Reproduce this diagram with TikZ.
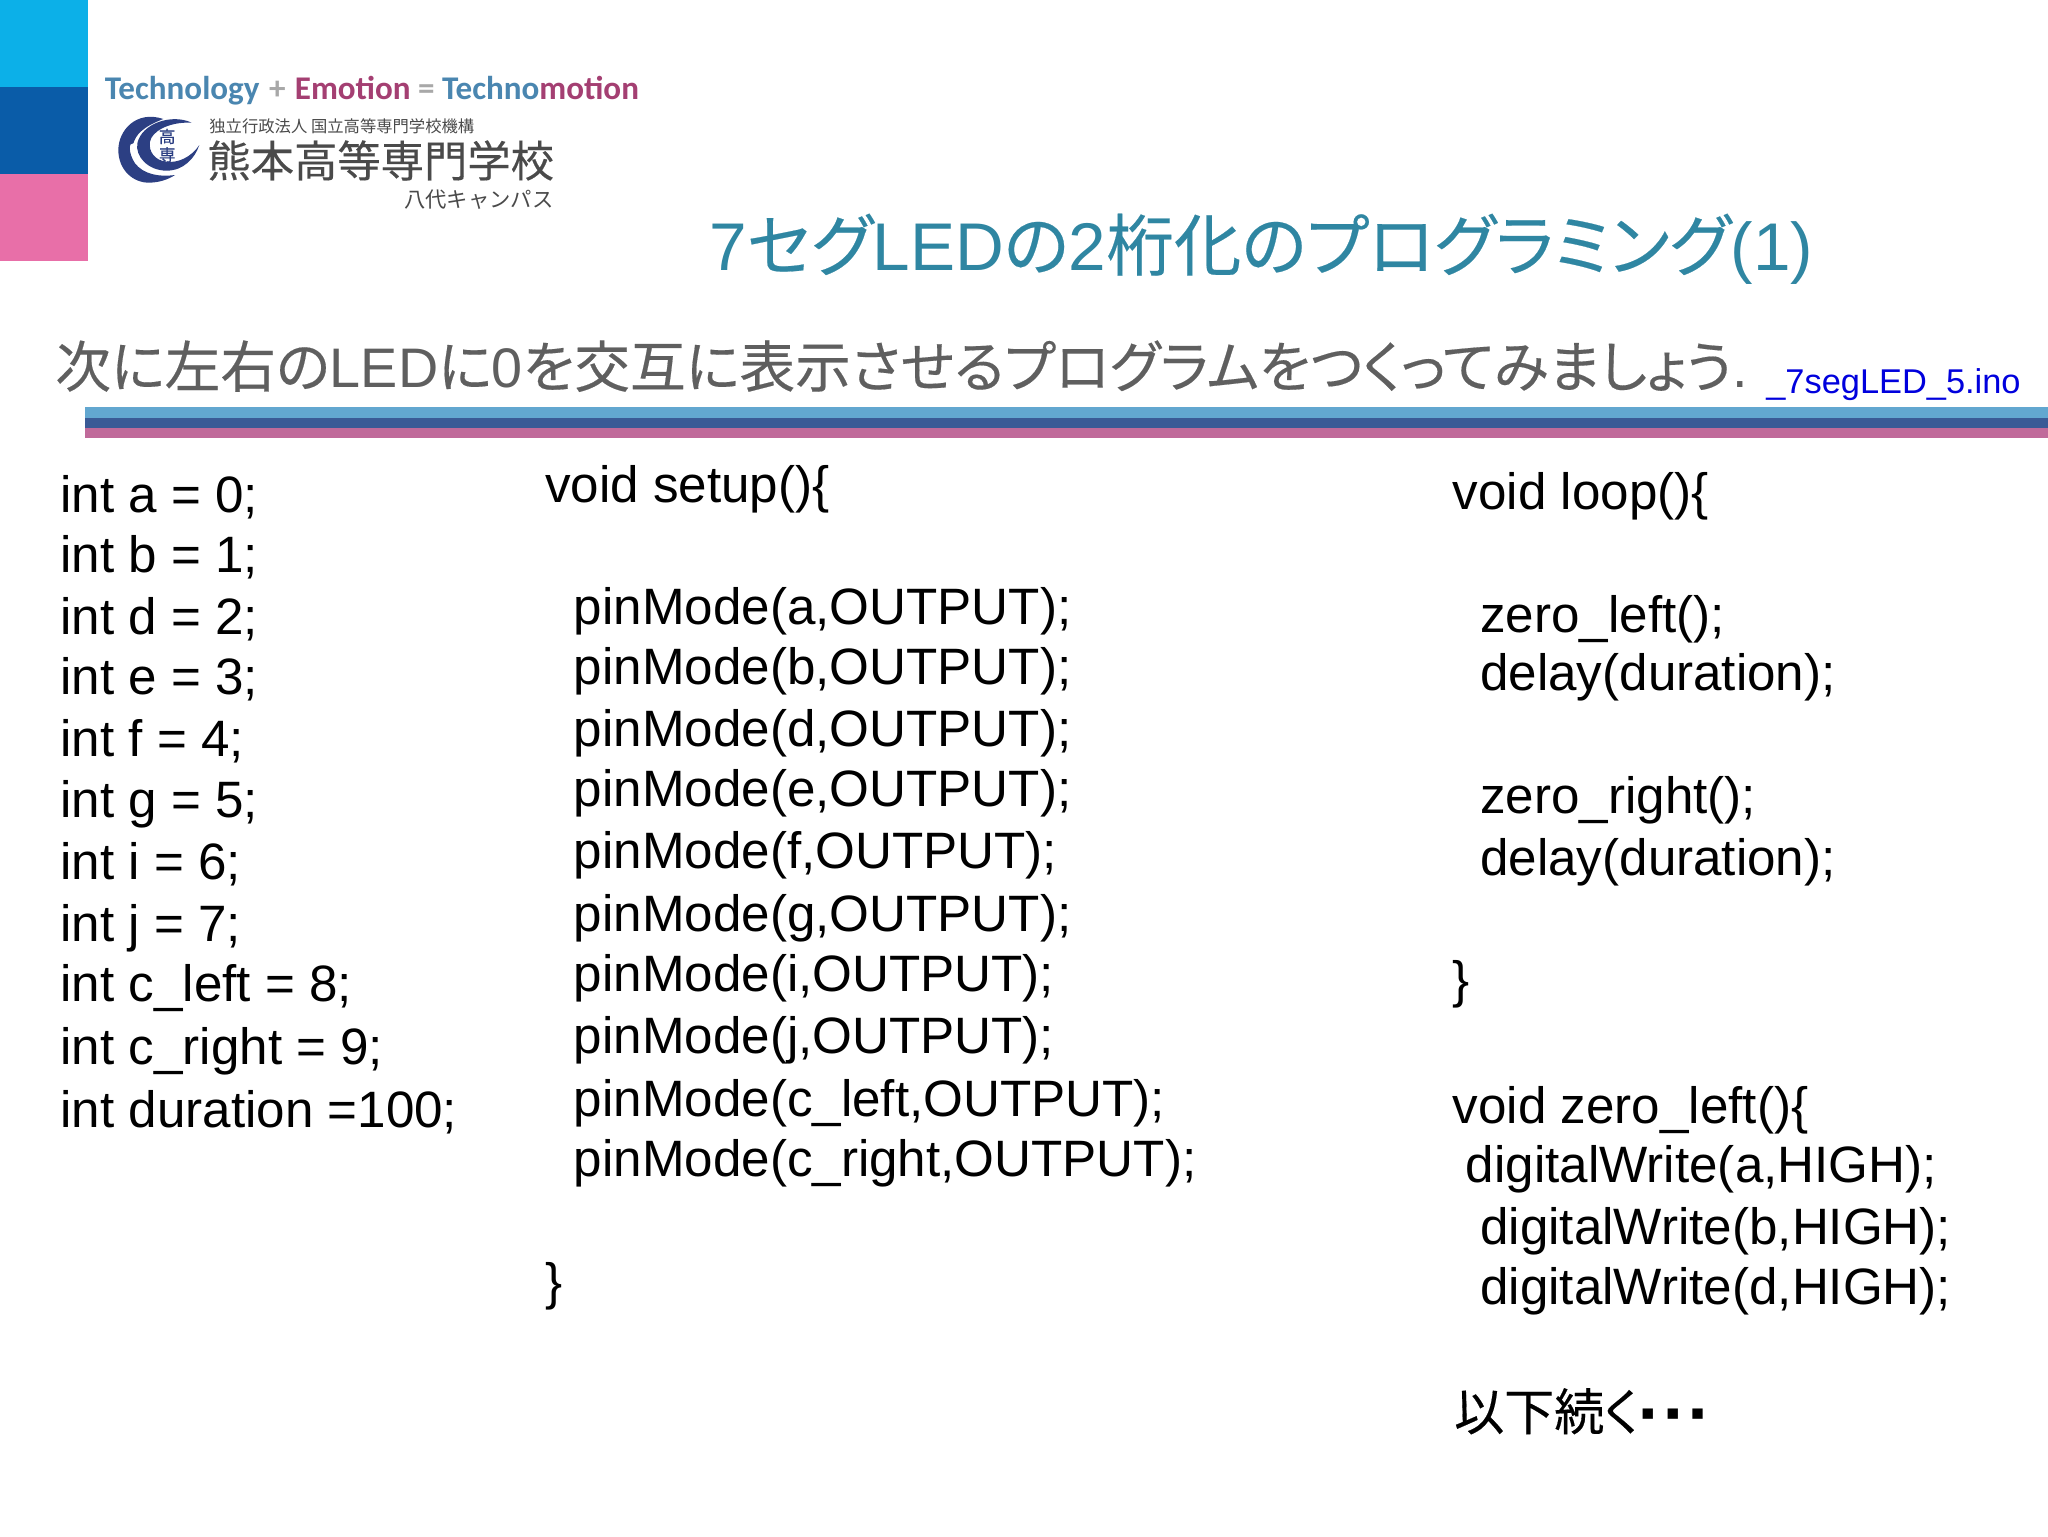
\documentclass[tikz,border=0pt]{standalone}
\usepackage{fontspec}
\setmainfont{Liberation Sans}
\newfontfamily\jpfont[RawFeature=+palt,FakeBold=0.3]{Noto Sans CJK JP}
\newfontfamily\jpplain{Noto Sans CJK JP}
\newfontfamily\tagfont{Carlito}
\newfontfamily\symfont{DejaVu Sans}
\newcommand{\lat}[1]{{\rmfamily #1}}
\definecolor{blockA}{HTML}{0CB0E8}
\definecolor{blockB}{HTML}{0A5CA8}
\definecolor{blockC}{HTML}{E86FA8}
\definecolor{barA}{HTML}{62A7D0}
\definecolor{barB}{HTML}{3A5A96}
\definecolor{barC}{HTML}{C06A9A}
\definecolor{titlecol}{HTML}{2F86A2}
\definecolor{subcol}{HTML}{5F5F5F}
\definecolor{techblue}{HTML}{4A86B0}
\definecolor{techred}{HTML}{A43F72}
\definecolor{techgray}{HTML}{A8A8A8}
\definecolor{logonavy}{HTML}{2C3F83}
\definecolor{logogray}{HTML}{4A4A4A}
\definecolor{filecol}{HTML}{0000DD}
\tikzset{
 code/.style={anchor=base west,inner sep=0pt,text=black,font=\fontsize{23.5}{28}\selectfont},
 jpcode/.style={anchor=base west,inner sep=0pt,text=black,font=\jpfont\fontsize{23}{28}\selectfont},
 logotext/.style={anchor=base west,inner sep=0pt,text=logogray},
}
\begin{document}
\begin{tikzpicture}[x=0.6pt,y=-0.6pt]
\useasboundingbox (0,0) rectangle (1568,1176);
\fill[white] (0,0) rectangle (1568,1176);
% side blocks
\fill[blockA] (0,0) rectangle (67,66.5);
\fill[blockB] (0,66.5) rectangle (67,133);
\fill[blockC] (0,133) rectangle (67,200);
% bars
\fill[barA] (65,311.5) rectangle (1568,320);
\fill[barB] (65,320) rectangle (1568,328);
\fill[barC] (65,328) rectangle (1568,335.5);
% tag line
\node[anchor=base west,inner sep=0pt,font=\tagfont\bfseries\fontsize{15.2}{18}\selectfont] (tag) at (80,76)
 {\textcolor{techblue}{Technology}\hspace{1pt} \textcolor{techgray}{+}\hspace{0.8pt} \textcolor{techred}{Emotion} \textcolor{techgray}{=} \textcolor{techblue}{Techno}\textcolor{techred}{motion}};
% logo mark
\begin{scope}[shift={(76.57,76.57)},x=0.1531pt,y=-0.1531pt]
\fill[logonavy] (190,57) .. controls (110,30) and (55,90) .. (55,150)
 .. controls (55,210) and (100,250) .. (150,248)
 .. controls (180,247) and (205,238) .. (225,225)
 .. controls (175,232) and (130,222) .. (105,190)
 .. controls (85,160) and (85,125) .. (100,130)
 .. controls (108,105) and (125,82) .. (190,57) -- cycle;
\fill[logonavy] (275,68) .. controls (215,40) and (125,70) .. (112,130)
 .. controls (105,170) and (145,212) .. (200,212)
 .. controls (250,212) and (285,175) .. (298,135)
 .. controls (275,170) and (235,190) .. (200,185)
 .. controls (165,182) and (145,155) .. (150,125)
 .. controls (155,95) and (205,65) .. (275,68) -- cycle;
\end{scope}
\node[inner sep=0pt,text=logonavy,align=center,font=\jpfont\fontsize{7.6}{8.4}\selectfont] (mark) at (128,111.5) {高\\専};
\node[logotext,font=\jpplain\fontsize{7.5}{8}\selectfont] (org) at (160,101.5) {独立行政法人 国立高等専門学校機構};
\node[logotext,font=\jpfont\fontsize{19.9}{22}\selectfont] (school) at (158.5,135.5) {熊本高等専門学校};
\node[logotext,font=\jpplain\fontsize{9.8}{12}\selectfont] (campus) at (309,159) {八代キャンパス};
% titles
\node[anchor=base west,inner sep=0pt,text=titlecol,font=\jpfont\fontsize{31}{36}\selectfont] (title) at (543,207) {\lat{7}セグ\lat{LED}の\lat{2}桁化のプログラミング\lat{(1)}};
\node[anchor=base west,inner sep=0pt,text=subcol,font=\jpfont\fontsize{25.6}{30}\selectfont] (sub) at (42,296.5) {次に左右の\lat{LED}に\lat{0}を交互に表示させるプログラムをつくってみましょう\lat{.}};
\node[anchor=base west,inner sep=0pt,text=filecol,font=\fontsize{15.8}{20}\selectfont] (file) at (1352,301) {\_7segLED\_5.ino};
% left column
\node[code] (l1) at (46,392) {int a = 0;};
\node[code] (l2) at (46,438) {int b = 1;};
\node[code] (l3) at (46,486) {int d = 2;};
\node[code] (l4) at (46,532) {int e = 3;};
\node[code] (l5) at (46,579.5) {int f = 4;};
\node[code] (l6) at (46,626) {int g = 5;};
\node[code] (l7) at (46,673) {int i = 6;};
\node[code] (l8) at (46,721) {int j = 7;};
\node[code] (l9) at (46,767) {int c\_left = 8;};
\node[code] (l10) at (46,815) {int c\_right = 9;};
\node[code] (l11) at (46,863) {int duration =100;};
% middle column
\node[code] (m0) at (417,385) {void setup()\{};
\node[code] (m1) at (439,478) {pinMode(a,OUTPUT);};
\node[code] (m2) at (439,524) {pinMode(b,OUTPUT);};
\node[code] (m3) at (439,571.5) {pinMode(d,OUTPUT);};
\node[code] (m4) at (439,617.5) {pinMode(e,OUTPUT);};
\node[code] (m5) at (439,665) {pinMode(f,OUTPUT);};
\node[code] (m6) at (439,713) {pinMode(g,OUTPUT);};
\node[code] (m7) at (439,759) {pinMode(i,OUTPUT);};
\node[code] (m8) at (439,806.5) {pinMode(j,OUTPUT);};
\node[code] (m9) at (439,855) {pinMode(c\_left,OUTPUT);};
\node[code] (m10) at (439,901) {pinMode(c\_right,OUTPUT);};
\node[code] (m11) at (417,995) {\}};
% right column
\node[code] (r0) at (1112,390) {void loop()\{};
\node[code] (r1) at (1133,484) {zero\_left();};
\node[code] (r2) at (1133,529) {delay(duration);};
\node[code] (r3) at (1133,623) {zero\_right();};
\node[code] (r4) at (1133,670) {delay(duration);};
\node[code] (r5) at (1112,764) {\}};
\node[code] (r6) at (1112,860) {void zero\_left()\{};
\node[code] (r7) at (1122,905.5) {digitalWrite(a,HIGH);};
\node[code] (r8) at (1133,953) {digitalWrite(b,HIGH);};
\node[code] (r9) at (1133,999) {digitalWrite(d,HIGH);};
\node[jpcode] (r10) at (1113,1095) {以下続く\hspace{1pt}{\symfont\fontsize{9.5}{10}\selectfont\raisebox{4.8pt}{▪\kern5pt▪\kern5pt▪}}};
\end{tikzpicture}
\end{document}
